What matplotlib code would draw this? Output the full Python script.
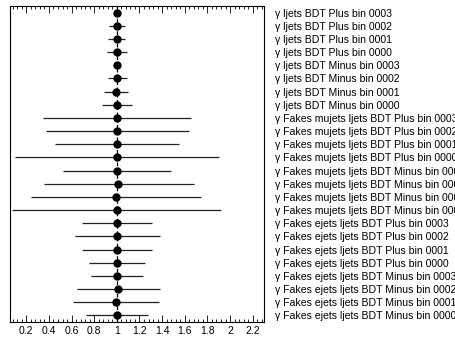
import numpy as np
import matplotlib
matplotlib.use("Agg")
import matplotlib.pyplot as plt
from matplotlib.ticker import MultipleLocator

plt.rcParams['font.family'] = ['Liberation Sans', 'DejaVu Sans']

# nuisance parameter names, top to bottom
labels = [
    "γ ljets BDT Plus bin 0003",
    "γ ljets BDT Plus bin 0002",
    "γ ljets BDT Plus bin 0001",
    "γ ljets BDT Plus bin 0000",
    "γ ljets BDT Minus bin 0003",
    "γ ljets BDT Minus bin 0002",
    "γ ljets BDT Minus bin 0001",
    "γ ljets BDT Minus bin 0000",
    "γ Fakes mujets ljets BDT Plus bin 0003",
    "γ Fakes mujets ljets BDT Plus bin 0002",
    "γ Fakes mujets ljets BDT Plus bin 0001",
    "γ Fakes mujets ljets BDT Plus bin 0000",
    "γ Fakes mujets ljets BDT Minus bin 0003",
    "γ Fakes mujets ljets BDT Minus bin 0002",
    "γ Fakes mujets ljets BDT Minus bin 0001",
    "γ Fakes mujets ljets BDT Minus bin 0000",
    "γ Fakes ejets ljets BDT Plus bin 0003",
    "γ Fakes ejets ljets BDT Plus bin 0002",
    "γ Fakes ejets ljets BDT Plus bin 0001",
    "γ Fakes ejets ljets BDT Plus bin 0000",
    "γ Fakes ejets ljets BDT Minus bin 0003",
    "γ Fakes ejets ljets BDT Minus bin 0002",
    "γ Fakes ejets ljets BDT Minus bin 0001",
    "γ Fakes ejets ljets BDT Minus bin 0000",
]
# fitted values and errors
values = [1.0, 1.0, 1.0, 1.0, 1.0, 1.005, 0.99, 1.0,
          1.0, 1.005, 1.0, 1.0, 1.0, 1.012, 0.99, 1.0,
          1.0, 1.005, 1.0, 1.0, 1.0, 1.012, 0.99, 1.0]
err_lo = [0.02, 0.07, 0.075, 0.09, 0.03, 0.085, 0.10, 0.13,
          0.65, 0.63, 0.55, 0.90, 0.48, 0.66, 0.75, 0.924,
          0.304, 0.374, 0.304, 0.25, 0.23, 0.36, 0.374, 0.272]
err_hi = [0.02, 0.07, 0.075, 0.09, 0.03, 0.085, 0.11, 0.13,
          0.655, 0.635, 0.55, 0.905, 0.48, 0.666, 0.756, 0.923,
          0.31, 0.378, 0.31, 0.25, 0.23, 0.37, 0.378, 0.274]

fig = plt.figure(figsize=(4.56, 3.4), dpi=100)
ax = fig.add_axes([10/456, 18/340, 254/456, 316/340])

y = np.arange(len(labels))
ax.axvline(1.0, color="black", lw=0.9, ls=(0, (3, 2)), zorder=1)
ax.errorbar(values, y, xerr=[err_lo, err_hi], fmt="o", color="black",
            ecolor="#222222", elinewidth=0.9, markersize=5, capsize=0, zorder=3)

ax.set_xlim(0.056, 2.30)
ax.set_ylim(len(labels) - 0.5, -0.5)

ax.xaxis.set_minor_locator(MultipleLocator(0.04))
ax.set_xticks([0.2, 0.4, 0.6, 0.8, 1.0, 1.2, 1.4, 1.6, 1.8, 2.0, 2.2])
ax.set_xticklabels(["0.2", "0.4", "0.6", "0.8", "1", "1.2", "1.4", "1.6", "1.8", "2", "2.2"])
ax.tick_params(axis="x", which="both", direction="in", top=True, labelsize=7.5, pad=3, width=0.6)
ax.tick_params(axis="x", which="major", length=5)
ax.tick_params(axis="x", which="minor", length=2.5)

# names go on the right as tick labels
ax.yaxis.tick_right()
ax.set_yticks(y)
ax.set_yticklabels(labels)
ax.tick_params(axis="y", length=0, pad=8, labelsize=7.6)

for s in ax.spines.values():
    s.set_linewidth(0.8)

fig.savefig("out.png", dpi=100)
